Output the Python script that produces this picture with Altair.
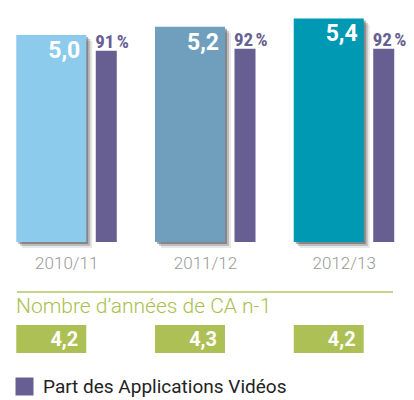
import altair as alt
import pandas as pd

periodes = ["2010/11", "2011/12", "2012/13"]
ca = [5.0, 5.2, 5.4]
ca_labels = ["5,0", "5,2", "5,4"]
part_video = [91, 92, 92]
part_labels = ["91\u202f%", "92\u202f%", "92\u202f%"]
annees = [4.2, 4.3, 4.2]
annees_labels = ["4,2", "4,3", "4,2"]
serie_name = "Part des Applications Vidéos"
subtitle = "Nombre d’années de CA n-1"

bar_colors = ["#8ccbec", "#6f9fbd", "#0099b3"]
purple = "#675f92"
green = "#adc055"

df = pd.DataFrame({
    "periode": periodes,
    "ca": ca,
    "ca_label": ca_labels,
    "part": part_video,
    "part_label": part_labels,
    "annees": annees,
    "annees_label": annees_labels,
    "serie": [serie_name] * 3,
})

X = alt.X(
    "periode:N", sort=periodes,
    scale=alt.Scale(type="point", padding=0.42),
    axis=alt.Axis(title=None, domain=False, ticks=False, labelFontSize=17,
                  labelColor="#9a9a9a", labelFont="Roboto", labelFontWeight=300,
                  labelPadding=13, labelAngle=0, grid=False),
)
yCA = alt.Y("ca:Q", scale=alt.Scale(domain=[0, 5.652]), axis=None)
yP = alt.Y("part:Q", scale=alt.Scale(domain=[0, 111.4]), axis=None)

base = alt.Chart(df)

layers = []
for d, o in [(2, 0.35), (4, 0.22), (6, 0.1)]:
    layers.append(
        base.mark_bar(width=70, xOffset=-15 + d, yOffset=d, y2Offset=d,
                      color="#222222", opacity=o).encode(x=X, y=yCA)
    )

big = base.mark_bar(width=70, xOffset=-15).encode(
    x=X, y=yCA,
    color=alt.Color("periode:N", sort=periodes,
                    scale=alt.Scale(domain=periodes, range=bar_colors), legend=None),
)
big_txt = base.mark_text(align="right", baseline="alphabetic", dx=14, dy=23,
                         fontSize=23, fontWeight="bold", color="white",
                         font="Roboto").encode(x=X, y=yCA, text="ca_label:N")

purple_bars = base.mark_bar(width=21, xOffset=40).encode(
    x=X, y=yP,
    color=alt.Color("serie:N", scale=alt.Scale(domain=[serie_name], range=[purple]),
                    legend=alt.Legend(title=None, orient="none", legendX=7, legendY=369,
                                      padding=0, symbolType="square", symbolSize=324,
                                      symbolStrokeWidth=0, symbolOpacity=1,
                                      labelFontSize=19, labelColor="#222222",
                                      labelFont="Roboto", labelOffset=9, labelLimit=0)),
)
purple_txt = base.mark_text(align="left", baseline="alphabetic", dx=29, dy=-3,
                            fontSize=19, fontWeight="bold", color=purple,
                            font="Liberation Sans Narrow, Roboto Condensed, DejaVu Sans Condensed, Roboto"
                            ).encode(x=X, y=yP, text="part_label:N")

rule = alt.Chart(pd.DataFrame({"a": [0]})).mark_rule(color="#c4d585", strokeWidth=2).encode(
    x=alt.value(9), x2=alt.value(385), y=alt.value(284))

sub = alt.Chart(pd.DataFrame({"a": [0]})).mark_text(
    align="left", baseline="alphabetic", fontSize=21, color="#a9c04c",
    font="Roboto", fontWeight=300).encode(
    x=alt.value(8), y=alt.value(305), text=alt.value(subtitle))

boxes = base.mark_bar(width=70, xOffset=-15, color=green).encode(
    x=X, y=alt.value(317), y2=alt.value(345))
box_txt = base.mark_text(align="right", baseline="alphabetic", dx=12,
                         fontSize=20, fontWeight="bold", color="white",
                         font="Roboto").encode(x=X, y=alt.value(338), text="annees_label:N")

layers += [big, big_txt, purple_bars, purple_txt, rule, sub, boxes, box_txt]

chart = alt.layer(*layers).resolve_scale(y="independent", color="independent").properties(
    width=394, height=234,
    autosize=alt.AutoSizeParams(type="none"),
    padding={"left": 0, "top": 0, "right": 4, "bottom": 158},
).configure_view(stroke=None)

chart.save("out.html", embed_options={"renderer": "svg", "actions": False})
